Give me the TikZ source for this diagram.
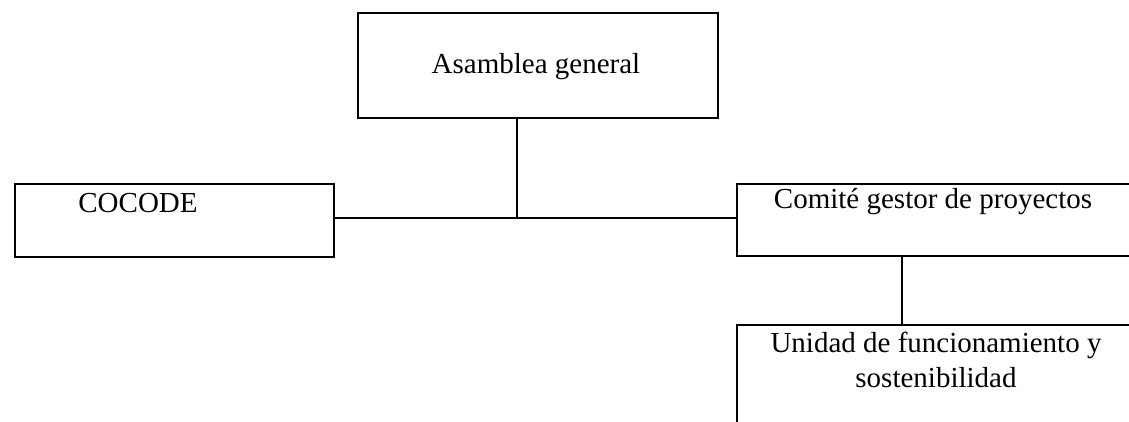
\documentclass[tikz,border=0pt]{standalone}
\usepackage{fontspec}
\setmainfont{Liberation Serif}
\begin{document}
\begin{tikzpicture}[x=1pt,y=-1pt,
  box/.style={draw, line width=1.6pt, inner sep=0pt, anchor=north west},
  lbl/.style={inner sep=0pt, font=\fontsize{29}{35}\selectfont},
  conn/.style={line width=1.6pt}]
\useasboundingbox (0,0) rectangle (1129,421);
\clip (0,0) rectangle (1129,421);
% boxes
\node[box, minimum width=360pt, minimum height=105pt] (asam) at (357,12) {};
\node[box, minimum width=319pt, minimum height=73pt] (cocode) at (14,183) {};
\node[box, minimum width=440pt, minimum height=72pt] (comite) at (736,183) {};
\node[box, minimum width=440pt, minimum height=140pt] (unidad) at (736,324) {};
% texts
\node[lbl, anchor=base] (tasam) at (536,73) {Asamblea general};
\node[lbl, anchor=base] (tcocode) at (138,212) {COCODE};
\node[lbl, anchor=base] (tcomite) at (933,208) {Comité gestor de proyectos};
\node[lbl, anchor=base, align=center] (tunidad) at (936,387) {Unidad de funcionamiento y\\sostenibilidad};
% connectors
\coordinate (j) at (517,218);
\coordinate (k) at (902,290);
\draw[conn] (asam.south -| j) -- (j);
\draw[conn] (cocode.east |- j) -- (comite.west |- j);
\draw[conn] (comite.south -| k) -- (unidad.north -| k);
\end{tikzpicture}
\end{document}
